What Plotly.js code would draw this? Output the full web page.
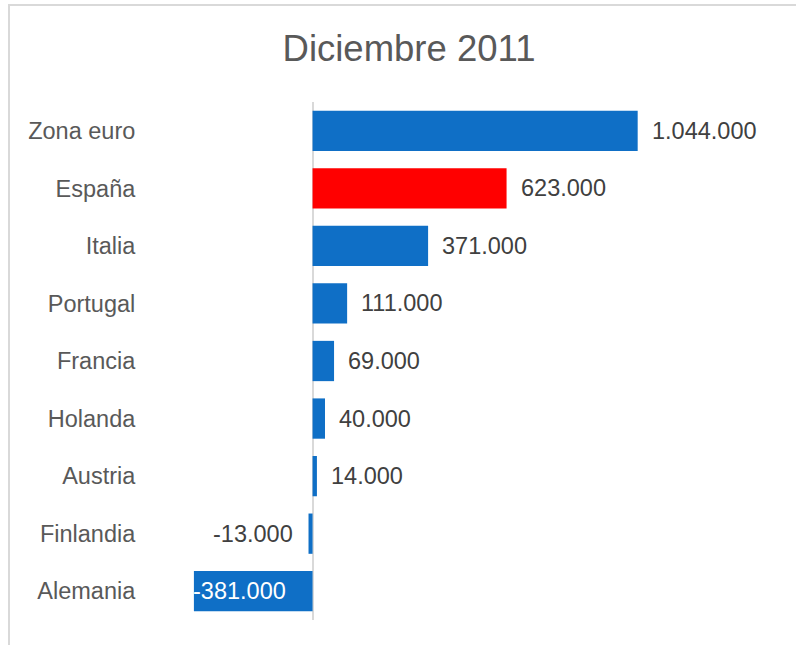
<!DOCTYPE html>
<html>
<head>
<meta charset="utf-8">
<script src="https://cdn.plot.ly/plotly-3.0.1.min.js"></script>
<style>
  html, body { margin: 0; padding: 0; width: 796px; height: 645px; overflow: hidden; background: #fff; }
  #frame { position: absolute; left: 8px; top: 4px; width: 900px; height: 800px; border: 2px solid #d9d9d9; box-sizing: border-box; pointer-events: none; }
  #chart { position: absolute; left: 0; top: 0; width: 796px; height: 645px; }
</style>
</head>
<body>
<div id="frame"></div>
<div id="chart"></div>
<script>
const chartTitle = 'Diciembre 2011';
const categories = ['Zona euro', 'España', 'Italia', 'Portugal', 'Francia', 'Holanda', 'Austria', 'Finlandia', 'Alemania'];
const values = [1044000, 623000, 371000, 111000, 69000, 40000, 14000, -13000, -381000];
const highlighted = 'España';

const BLUE = '#0F6FC6';
const RED = '#FF0000';
const FONT = '"Liberation Sans", Arial, sans-serif';

function fmt(v) {
  const s = String(Math.abs(v)).replace(/\B(?=(\d{3})+(?!\d))/g, '.');
  return (v < 0 ? '-' : '') + s;
}

const xMin = -522000, xMax = 1501000;
const plotLeft = 150, plotRight = 780;

const annotations = values.map((v, i) => {
  const insideNeg = v < 0 && v < xMin * 0.6; // large negative bar: label pushed inside
  let a = {
    x: v, y: categories[i], xref: 'x', yref: 'y',
    text: fmt(v), showarrow: false,
    font: { family: FONT, size: 23.5, color: '#404040' },
    yanchor: 'middle'
  };
  if (v >= 0) { a.xanchor = 'left'; a.xshift = 12; }
  else if (insideNeg) { a.xanchor = 'left'; a.xshift = -3; a.font.color = '#ffffff'; }
  else { a.xanchor = 'right'; a.xshift = -14; }
  return a;
});

const trace = {
  type: 'bar',
  orientation: 'h',
  y: categories,
  x: values,
  marker: {
    color: categories.map(c => c === highlighted ? RED : BLUE),
    line: { width: 0 }
  },
  hoverinfo: 'none'
};

const layout = {
  width: 796, height: 645,
  paper_bgcolor: 'rgba(0,0,0,0)',
  plot_bgcolor: 'rgba(0,0,0,0)',
  margin: { l: plotLeft, r: 796 - plotRight, t: 102, b: 25, pad: 0 },
  title: {
    text: chartTitle,
    font: { family: FONT, size: 36.5, color: '#595959' },
    x: 409 / 796, xanchor: 'center', xref: 'container',
    y: 1 - 48 / 645, yanchor: 'middle', yref: 'container'
  },
  bargap: 0.3,
  showlegend: false,
  xaxis: {
    range: [xMin, xMax],
    showgrid: false, showticklabels: false, ticks: '',
    zeroline: true, zerolinecolor: '#d9d9d9', zerolinewidth: 2,
    showline: false, fixedrange: true
  },
  yaxis: {
    autorange: 'reversed',
    showgrid: false, zeroline: false, showline: false,
    ticks: 'outside', ticklen: 9, tickcolor: 'rgba(0,0,0,0)',
    tickfont: { family: FONT, size: 23.5, color: '#595959' },
    automargin: false, fixedrange: true
  },
  annotations: annotations
};

Plotly.newPlot('chart', [trace], layout, { displayModeBar: false, staticPlot: true });
</script>
</body>
</html>
